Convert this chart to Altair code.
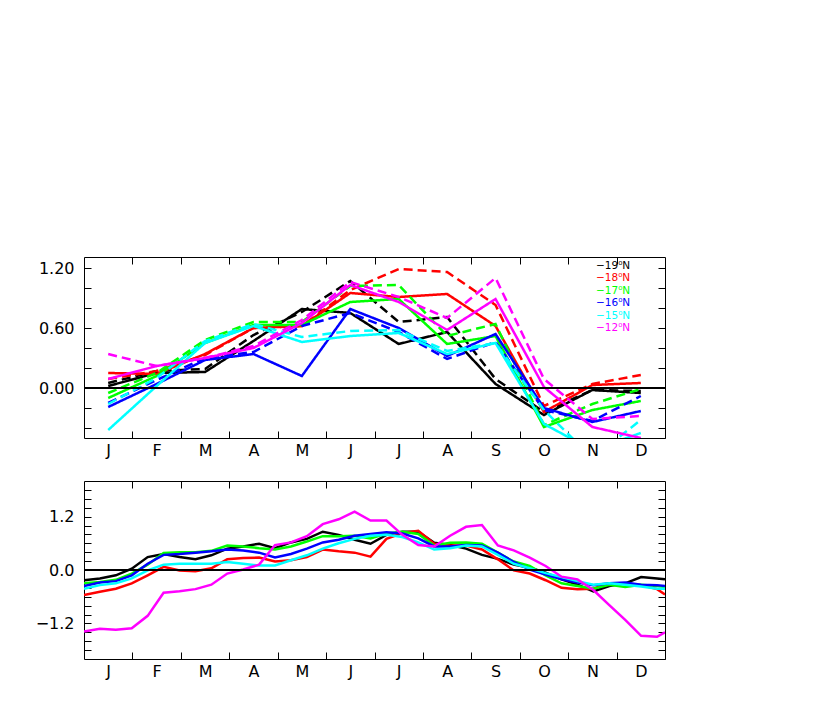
import json
import altair as alt
import pandas as pd

# ---------------- data ----------------
MONTH_LETTERS = ["J", "F", "M", "A", "M", "J", "J", "A", "S", "O", "N", "D"]
MONTHS = [1, 2, 3, 4, 5, 6, 7, 8, 9, 10, 11, 12]
LATS = ["19⁰N", "18⁰N", "17⁰N", "16⁰N", "15⁰N", "12⁰N"]
COLORS = ["#000000", "#ff0000", "#00ff00", "#0000ff", "#00ffff", "#ff00ff"]

# top panel: monthly values, solid and dashed curves per latitude
solid_19 = [0.02, 0.15, 0.16, 0.47, 0.79, 0.75, 0.44, 0.56, 0.04, -0.27, -0.02, -0.05]
dashed_19 = [0.05, 0.17, 0.19, 0.53, 0.76, 1.07, 0.66, 0.71, 0.09, -0.24, -0.02, -0.03]
solid_18 = [0.15, 0.14, 0.34, 0.60, 0.62, 0.95, 0.91, 0.94, 0.62, -0.24, 0.03, 0.05]
dashed_18 = [0.09, 0.17, 0.33, 0.60, 0.62, 0.98, 1.19, 1.16, 0.83, -0.18, 0.04, 0.13]
solid_17 = [-0.10, 0.12, 0.45, 0.63, 0.63, 0.86, 0.89, 0.44, 0.52, -0.39, -0.22, -0.13]
dashed_17 = [-0.05, 0.15, 0.48, 0.66, 0.66, 1.02, 1.03, 0.52, 0.64, -0.37, -0.16, -0.01]
solid_16 = [-0.19, 0.04, 0.28, 0.34, 0.12, 0.79, 0.60, 0.32, 0.54, -0.20, -0.34, -0.23]
dashed_16 = [-0.15, 0.08, 0.30, 0.36, 0.62, 0.75, 0.56, 0.29, 0.46, -0.22, -0.33, -0.08]
solid_15 = [-0.42, 0.02, 0.45, 0.62, 0.46, 0.52, 0.55, 0.34, 0.45, -0.36, -0.62, -0.45]
dashed_15 = [-0.16, 0.10, 0.47, 0.64, 0.51, 0.57, 0.58, 0.37, 0.45, -0.22, -0.70, -0.32]
solid_12 = [0.09, 0.22, 0.30, 0.40, 0.65, 1.03, 0.86, 0.58, 0.89, 0.01, -0.39, -0.50]
dashed_12 = [0.34, 0.22, 0.30, 0.42, 0.68, 1.06, 0.91, 0.70, 1.10, 0.09, -0.31, -0.28]

# bottom panel: daily (sampled every 10 days) values per latitude
DAYS = [0, 10, 20, 30, 40, 50, 60, 70, 80, 90, 100, 110, 120, 130, 140, 150, 160, 170, 180,
        190, 200, 210, 220, 230, 240, 250, 260, 270, 280, 290, 300, 310, 320, 330, 340, 350, 360, 365]
daily_19 = [-0.23, -0.19, -0.12, 0.03, 0.29, 0.36, 0.29, 0.24, 0.33, 0.48, 0.53, 0.59, 0.49, 0.62, 0.70,
            0.86, 0.79, 0.68, 0.59, 0.79, 0.86, 0.86, 0.61, 0.56, 0.48, 0.34, 0.25, 0.12, 0.05, -0.06,
            -0.21, -0.33, -0.48, -0.36, -0.30, -0.16, -0.19, -0.21]
daily_18 = [-0.56, -0.49, -0.42, -0.30, -0.12, 0.07, -0.01, -0.03, 0.04, 0.24, 0.27, 0.28, 0.19, 0.22, 0.29,
            0.46, 0.42, 0.39, 0.30, 0.70, 0.83, 0.88, 0.59, 0.55, 0.55, 0.46, 0.24, -0.01, -0.08, -0.23,
            -0.40, -0.43, -0.42, -0.30, -0.30, -0.34, -0.43, -0.55]
daily_17 = [-0.30, -0.27, -0.22, -0.08, 0.12, 0.38, 0.40, 0.40, 0.43, 0.55, 0.53, 0.49, 0.46, 0.53, 0.64,
            0.76, 0.76, 0.77, 0.71, 0.82, 0.86, 0.81, 0.55, 0.61, 0.62, 0.59, 0.39, 0.19, 0.09, -0.12,
            -0.30, -0.36, -0.42, -0.33, -0.38, -0.33, -0.36, -0.38]
daily_16 = [-0.36, -0.28, -0.25, -0.12, 0.14, 0.34, 0.36, 0.39, 0.42, 0.46, 0.44, 0.39, 0.28, 0.36, 0.48,
            0.62, 0.68, 0.77, 0.81, 0.85, 0.82, 0.71, 0.53, 0.53, 0.56, 0.55, 0.39, 0.18, 0.01, -0.10,
            -0.21, -0.28, -0.34, -0.30, -0.28, -0.33, -0.34, -0.36]
daily_15 = [-0.42, -0.34, -0.30, -0.19, -0.01, 0.12, 0.14, 0.14, 0.14, 0.18, 0.14, 0.10, 0.10, 0.22, 0.33,
            0.48, 0.60, 0.70, 0.77, 0.79, 0.74, 0.62, 0.46, 0.49, 0.55, 0.53, 0.34, 0.14, 0.04, -0.07,
            -0.16, -0.25, -0.33, -0.30, -0.33, -0.37, -0.42, -0.42]
daily_12 = [-1.38, -1.32, -1.34, -1.31, -1.03, -0.51, -0.48, -0.43, -0.33, -0.08, 0.01, 0.12, 0.56, 0.62,
            0.76, 1.03, 1.14, 1.31, 1.11, 1.11, 0.79, 0.56, 0.53, 0.77, 0.97, 1.01, 0.55, 0.44, 0.28, 0.09,
            -0.15, -0.21, -0.45, -0.79, -1.12, -1.48, -1.50, -1.40]

TOP_Y_TICKS = [-0.4, -0.2, 0.0, 0.2, 0.4, 0.6, 0.8, 1.0, 1.2]
TOP_Y_LABELS = [0.0, 0.6, 1.2]
BOT_Y_TICKS = [-1.8, -1.6, -1.4, -1.2, -1.0, -0.8, -0.6, -0.4, -0.2, 0.0,
               0.2, 0.4, 0.6, 0.8, 1.0, 1.2, 1.4, 1.6, 1.8]
BOT_Y_LABELS = [-1.2, 0.0, 1.2]

# ---------------- tables ----------------
top_series = [
    (LATS[0], "solid", solid_19), (LATS[0], "dashed", dashed_19),
    (LATS[1], "solid", solid_18), (LATS[1], "dashed", dashed_18),
    (LATS[2], "solid", solid_17), (LATS[2], "dashed", dashed_17),
    (LATS[3], "solid", solid_16), (LATS[3], "dashed", dashed_16),
    (LATS[4], "solid", solid_15), (LATS[4], "dashed", dashed_15),
    (LATS[5], "solid", solid_12), (LATS[5], "dashed", dashed_12),
]
rows = []
for lat, style, vals in top_series:
    for m, v in zip(MONTHS, vals):
        rows.append({"lat": lat, "style": style, "series": lat + style, "month": m, "value": v})
top_df = pd.DataFrame(rows)

bot_series = [daily_19, daily_18, daily_17, daily_16, daily_15, daily_12]
rows = []
for lat, vals in zip(LATS, bot_series):
    for d, v in zip(DAYS, vals):
        rows.append({"lat": lat, "day": d, "value": v})
bot_df = pd.DataFrame(rows)

legend_df = pd.DataFrame({"lat": LATS, "label": ["\u2212" + s for s in LATS]})
zero_df = pd.DataFrame({"v": [0.0]})

# ---------------- styling helpers ----------------
FONT = "DejaVu Sans"
W = 581
H_TOP = 181
H_BOT = 178
TICK = 7

xscale = alt.Scale(domain=[0.5, 12.5], nice=False, zero=False)
ytop_scale = alt.Scale(domain=[-0.5, 1.31], nice=False, zero=False)
ybot_scale = alt.Scale(domain=[-2.0, 2.0], nice=False, zero=False)
color_scale = alt.Scale(domain=LATS, range=COLORS)
dash_scale = alt.Scale(domain=["solid", "dashed"], range=[[1, 0], [9, 5]])

letters_js = json.dumps(MONTH_LETTERS)


def x_bottom_axis():
    return alt.Axis(orient="bottom", values=[m + 0.5 for m in MONTHS],
                    labelExpr=f"{letters_js}[round(datum.value - 1.5)]",
                    labelOffset=-W / 24, offset=-TICK, tickSize=TICK, domain=False, grid=False,
                    title=None, labelFlush=False, labelOverlap=False, labelPadding=4)


def x_top_axis():
    return alt.Axis(orient="top", values=[m + 0.5 for m in MONTHS[:-1]], labels=False,
                    offset=-TICK, tickSize=TICK, domain=False, grid=False, title=None)


def y_left_axis(ticks, labels, fmt):
    lab = json.dumps(labels)
    return alt.Axis(orient="left", values=ticks,
                    labelExpr=f"indexof({lab}, round(datum.value*10)/10) >= 0 ? format(datum.value, '{fmt}') : ''",
                    offset=-TICK, tickSize=TICK, domain=False, grid=False, title=None,
                    labelPadding=10, labelFlush=False, labelOverlap=False)


def y_right_axis(ticks):
    return alt.Axis(orient="right", values=ticks, labels=False, offset=-TICK, tickSize=TICK,
                    domain=False, grid=False, title=None)


# ---------------- top panel ----------------
top_lines = alt.Chart(top_df).mark_line(strokeWidth=2.5, clip=True).encode(
    x=alt.X("month:Q", scale=xscale, axis=x_bottom_axis()),
    y=alt.Y("value:Q", scale=ytop_scale, axis=y_left_axis(TOP_Y_TICKS, TOP_Y_LABELS, ".2f")),
    color=alt.Color("lat:N", scale=color_scale, legend=None, sort=LATS),
    strokeDash=alt.StrokeDash("style:N", scale=dash_scale, legend=None),
    detail="series:N",
)
top_zero = alt.Chart(zero_df).mark_rule(color="black", strokeWidth=2).encode(
    x=alt.XDatum(0.5, scale=xscale, axis=x_top_axis()),
    x2=alt.X2Datum(12.5),
    y=alt.Y("v:Q", scale=ytop_scale, axis=y_right_axis(TOP_Y_TICKS)),
)
top_legend = alt.Chart(legend_df).mark_text(
    align="left", baseline="middle", font=FONT, fontSize=10.5
).encode(
    x=alt.value(512),
    y=alt.Y("lat:N", sort=LATS, scale=alt.Scale(domain=LATS, range=[9, 71], padding=0), axis=None),
    text="label:N",
    color=alt.Color("lat:N", scale=color_scale, legend=None),
)
top = alt.layer(top_lines, top_zero, top_legend).resolve_scale(
    x="independent", y="independent").properties(width=W, height=H_TOP)

# ---------------- bottom panel ----------------
bot_lines = alt.Chart(bot_df).transform_calculate(
    mpos="0.5 + datum.day * 12 / 365"
).mark_line(strokeWidth=2.5, clip=True).encode(
    x=alt.X("mpos:Q", scale=xscale, axis=x_bottom_axis()),
    y=alt.Y("value:Q", scale=ybot_scale, axis=y_left_axis(BOT_Y_TICKS, BOT_Y_LABELS, ".1f")),
    color=alt.Color("lat:N", scale=color_scale, legend=None, sort=LATS),
    detail="lat:N",
)
bot_zero = alt.Chart(zero_df).mark_rule(color="black", strokeWidth=2).encode(
    x=alt.XDatum(0.5, scale=xscale, axis=x_top_axis()),
    x2=alt.X2Datum(12.5),
    y=alt.Y("v:Q", scale=ybot_scale, axis=y_right_axis(BOT_Y_TICKS)),
)
bottom = alt.layer(bot_lines, bot_zero).resolve_scale(
    x="independent", y="independent").properties(width=W, height=H_BOT)

chart = alt.vconcat(top, bottom, spacing=43, bounds="flush").properties(
    padding={"left": 26, "top": 248, "right": 5, "bottom": 5},
    background="white",
).configure_view(
    stroke="black", strokeWidth=1
).configure_axis(
    labelFont=FONT, labelFontSize=16, labelColor="black", tickColor="black", tickWidth=1
)

chart.save("out.html", embed_options={"renderer": "svg", "actions": False})
